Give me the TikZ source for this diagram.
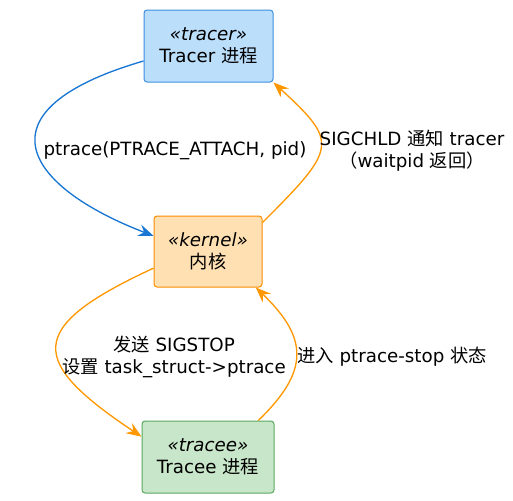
\documentclass[tikz,border=0pt]{standalone}
\usepackage{fontspec}
\setmainfont{DejaVu Sans}
\newfontfamily\cjkfont{Noto Sans CJK SC}
\usetikzlibrary{arrows.meta}
\definecolor{tracerfill}{HTML}{BBDEFB}
\definecolor{tracerdraw}{HTML}{3D8FE0}
\definecolor{kernelfill}{HTML}{FFE0B2}
\definecolor{kerneldraw}{HTML}{FB8C00}
\definecolor{traceefill}{HTML}{C8E6C9}
\definecolor{traceedraw}{HTML}{5AA85E}
\definecolor{blueline}{HTML}{1976D2}
\definecolor{orangeline}{HTML}{FF9800}

\begin{document}
\begin{tikzpicture}[x=0.75pt, y=-0.75pt,
    font=\fontsize{13.7}{16.4}\selectfont,
    box/.style={draw, rounded corners=2.25pt, line width=0.75pt,
        align=center, inner sep=0pt},
    link/.style={line width=1pt,
        -{Stealth[length=11.5pt, width=9pt, inset=4pt]}},
    lbl/.style={align=center, inner sep=0pt}]

    \useasboundingbox (0,0) rectangle (513,500);

    % Processes
    \node[box, fill=tracerfill, draw=tracerdraw,
        minimum width=96.75pt, minimum height=54pt]
        (tracer) at (208.5,46) {\itshape «tracer»\\Tracer {\cjkfont 进程}};
    \node[box, fill=kernelfill, draw=kerneldraw,
        minimum width=81pt, minimum height=53.25pt]
        (kernel) at (208,251.5) {\itshape «kernel»\\{\cjkfont 内核}};
    \node[box, fill=traceefill, draw=traceedraw,
        minimum width=99pt, minimum height=54pt]
        (tracee) at (208,457) {\itshape «tracee»\\Tracee {\cjkfont 进程}};

    % Connectors
    \draw[link, blueline] (tracer.193)
        .. controls +(-168,49) and +(-130,-50) .. (kernel.164);
    \draw[link, orangeline] (kernel.28)
        .. controls +(75,-75) and +(65,60) .. (tracer.south east);
    \draw[link, orangeline] (kernel.197)
        .. controls +(-130,60) and +(-112,-75) .. (tracee.163);
    \draw[link, orangeline] (tracee.36)
        .. controls +(52,-50) and +(52,50) .. (kernel.-37);

    % Labels
    \node[lbl] (attach) at (175,151) {ptrace(PTRACE\_ATTACH, pid)};
    \node[lbl] (notify) at (412,151)
        {SIGCHLD {\cjkfont 通知} tracer\\{\cjkfont （}waitpid {\cjkfont 返回）}};
    \node[lbl] (stop) at (174,357)
        {{\cjkfont 发送} SIGSTOP\\{\cjkfont 设置} task\_struct->ptrace};
    \node[lbl, anchor=west] (state) at (297,357)
        {{\cjkfont 进入} ptrace-stop {\cjkfont 状态}};

\end{tikzpicture}
\end{document}
